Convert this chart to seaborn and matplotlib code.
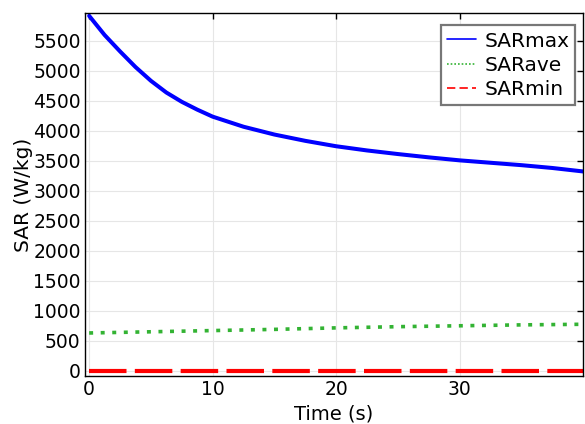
import seaborn as sns
import matplotlib.pyplot as plt
import pandas as pd
from matplotlib.lines import Line2D

# values
t_max = [0, 1.25, 2.5, 3.75, 5, 6.25, 7.5, 8.75, 10, 12.5, 15, 17.5, 20, 22.5, 25, 27.5, 30, 32.5, 35, 37.5, 40]
sar_max = [5912, 5593, 5320, 5060, 4830, 4635, 4480, 4350, 4233, 4065, 3935, 3830, 3740, 3670, 3610, 3555, 3505, 3465, 3425, 3378, 3320]
t_ave = [0, 5, 10, 15, 20, 25, 30, 35, 40]
sar_ave = [630, 650, 670, 690, 715, 735, 750, 765, 775]
t_min = [0, 40]
sar_min = [0, 0]

sns.set_style("whitegrid", {"grid.color": "#e6e6e6", "axes.edgecolor": "black",
                            "text.color": "black", "axes.labelcolor": "black"})
plt.rcParams['font.family'] = ['DejaVu Sans']

fig = plt.figure(figsize=(5.85, 4.24), dpi=100)
ax = fig.add_axes([0.145, 0.113, 0.852, 0.856])

blue = '#0000ff'
green = '#33b333'
red = '#ff0000'

df_max = pd.DataFrame({'t': t_max, 'v': sar_max})
df_ave = pd.DataFrame({'t': t_ave, 'v': sar_ave})
df_min = pd.DataFrame({'t': t_min, 'v': sar_min})

sns.lineplot(data=df_max, x='t', y='v', ax=ax, color=blue, lw=2.9)
sns.lineplot(data=df_ave, x='t', y='v', ax=ax, color=green, lw=2.6)
ax.lines[-1].set_dashes((1.1, 2.1))
ax.lines[-1].set_dash_capstyle('butt')
sns.lineplot(data=df_min, x='t', y='v', ax=ax, color=red, lw=3.0)
ax.lines[-1].set_dashes((9, 2))

ax.set_xlim(-0.35, 40)
ax.set_ylim(-88, 5957)
ax.set_xticks([0, 10, 20, 30])
ax.set_yticks(range(0, 6000, 500))
ax.tick_params(direction='in', length=4, width=1, top=True, right=True,
               labelsize=13.5, colors='black', pad=3)
for s in ax.spines.values():
    s.set_color('black')
    s.set_linewidth(1)
ax.set_xlabel('Time (s)', fontsize=14, labelpad=3.5)
ax.set_ylabel('SAR (W/kg)', fontsize=14.5, labelpad=0)

handles = [Line2D([], [], color=blue, lw=1.2),
           Line2D([], [], color=green, lw=1.2, ls=(0, (1, 1.2))),
           Line2D([], [], color=red, lw=1.2, ls=(0, (5, 2.5)))]
leg = ax.legend(handles, ['SARmax', 'SARave', 'SARmin'], loc='upper right',
                fontsize=14.5, frameon=True, fancybox=False, shadow=False,
                edgecolor='#777777', framealpha=1, handlelength=1.45,
                handletextpad=0.4, borderpad=0.3, labelspacing=0.25,
                borderaxespad=0, bbox_to_anchor=(0.984, 0.966))
leg.get_frame().set_linewidth(1.6)
for txt in leg.get_texts():
    txt.set_color('black')

fig.savefig('out.png', dpi=100)
